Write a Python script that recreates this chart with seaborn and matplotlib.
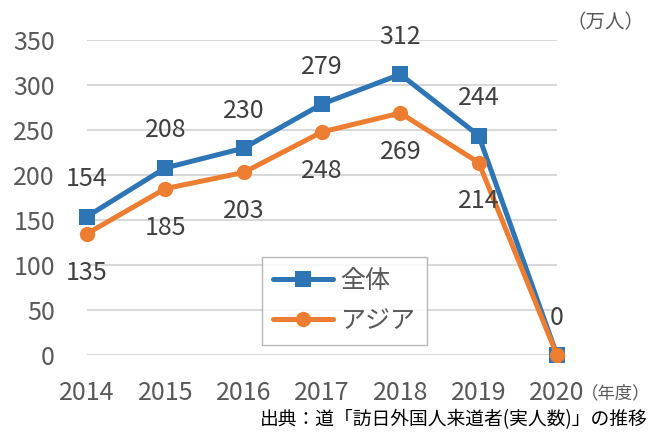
import pandas as pd
import matplotlib.pyplot as plt
import seaborn as sns

years = [2014, 2015, 2016, 2017, 2018, 2019, 2020]
total = [154, 208, 230, 279, 312, 244, 0]
asia = [135, 185, 203, 248, 269, 214, 0]
series_names = ['全体', 'アジア']

sns.set_style('white')
plt.rcParams['font.family'] = ['Noto Sans CJK JP', 'DejaVu Sans']

df = pd.DataFrame({
    'year': years * 2,
    'value': total + asia,
    'series': [series_names[0]] * len(years) + [series_names[1]] * len(years),
})

fig = plt.figure(figsize=(6.52, 4.32), dpi=100)
ax = fig.add_axes([0.1334, 0.178, 0.7209, 0.729])

palette = {'全体': '#2E75B6', 'アジア': '#ED7D31'}
markers = {'全体': 's', 'アジア': 'o'}
sns.lineplot(data=df, x='year', y='value', hue='series', style='series',
             palette=palette, markers=markers, dashes=False, linewidth=3.6,
             markersize=11, markeredgewidth=0, ax=ax, legend=True, clip_on=False)

ax.set_xlim(2014, 2020)
ax.set_ylim(0, 350)
ax.set_yticks(range(0, 351, 50))
ax.set_xticks(years)
ax.set_xlabel('')
ax.set_ylabel('')
ax.grid(axis='y', color='#D9D9D9', linewidth=1.5)
ax.set_axisbelow(True)
for s in ax.spines.values():
    s.set_visible(False)
ax.tick_params(axis='both', length=0, labelsize=18, colors='#595959')
ax.tick_params(axis='x', pad=18)
ax.tick_params(axis='y', pad=23)

# data labels
for x, y in zip(years, total):
    ax.annotate(str(y), (x, y), xytext=(0, 27), textcoords='offset points',
                ha='center', va='center', fontsize=18, color='#404040')
for x, y in zip(years[:-1], asia[:-1]):
    ax.annotate(str(y), (x, y), xytext=(0, -28), textcoords='offset points',
                ha='center', va='center', fontsize=18, color='#404040')

leg = ax.legend(loc='lower left', bbox_to_anchor=(0.372, 0.032), fontsize=18,
                frameon=True, fancybox=False, edgecolor='#A6A6A6',
                handlelength=2.4, borderpad=0.45, labelspacing=0.55,
                handletextpad=0.3, borderaxespad=0)
leg.get_frame().set_linewidth(1.0)
for t in leg.get_texts():
    t.set_color('#595959')

fig.text(0.928, 0.948, '（万人）', ha='center', va='center', fontsize=14, color='#595959')
fig.text(0.998, 0.09, '（年度）', ha='right', va='center', fontsize=12.5, color='#595959')
fig.text(0.993, 0.028, '出典：道「訪日外国人来道者(実人数)」の推移', ha='right', va='center',
         fontsize=13.5, color='black')

fig.savefig('out.png', dpi=100)
